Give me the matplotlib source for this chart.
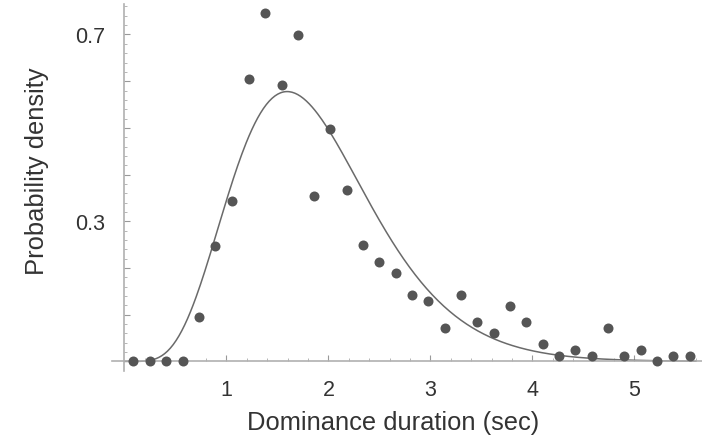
import math
import numpy as np
import matplotlib
matplotlib.use("Agg")
from matplotlib import pyplot as plt
from matplotlib.ticker import FixedLocator

plt.rcParams['font.family'] = ['Liberation Sans', 'DejaVu Sans']

# observed histogram (bin centres, density)
durations = [0.08, 0.25, 0.41, 0.57, 0.73, 0.89, 1.05, 1.22, 1.38, 1.54, 1.70, 1.86,
             2.02, 2.18, 2.34, 2.50, 2.66, 2.82, 2.98, 3.14, 3.30, 3.46, 3.62, 3.78,
             3.94, 4.10, 4.26, 4.42, 4.58, 4.74, 4.90, 5.06, 5.22, 5.38, 5.54]
density = [0.0, 0.0, 0.0, 0.0, 0.095, 0.247, 0.343, 0.605, 0.746, 0.592, 0.699, 0.355,
           0.498, 0.367, 0.249, 0.213, 0.190, 0.143, 0.130, 0.072, 0.143, 0.085, 0.061, 0.119,
           0.085, 0.037, 0.012, 0.025, 0.012, 0.072, 0.012, 0.025, 0.0, 0.012, 0.012]

# fitted gamma density
shape_k = 6.5
scale_theta = 0.29

xticks = [1, 2, 3, 4, 5]
yticks = [0.1, 0.2, 0.3, 0.4, 0.5, 0.6, 0.7]
ylabels = ['', '', '0.3', '', '', '', '0.7']

xs = np.linspace(0.001, 5.6, 400)
fit = xs**(shape_k - 1) * np.exp(-xs / scale_theta) / (math.gamma(shape_k) * scale_theta**shape_k)

fig = plt.figure(figsize=(7.02, 4.39), dpi=100)
ax = fig.add_axes([0, 0, 1, 1])
ax.set_xlim(-1.22, 5.662)
ax.set_ylim(-0.164, 0.776)

axis_col = '#b0b0b0'
for s in ['top', 'right']:
    ax.spines[s].set_visible(False)
ax.spines['left'].set_position(('data', 0))
ax.spines['bottom'].set_position(('data', 0))
ax.spines['left'].set_bounds(-0.02, 0.766)
ax.spines['bottom'].set_bounds(-0.123, 5.66)
for s in ['left', 'bottom']:
    ax.spines[s].set_color(axis_col)
    ax.spines[s].set_linewidth(1.2)

ax.plot(xs, fit, color='#6a6a6a', lw=1.1, zorder=2)
ax.plot(durations, density, 'o', color='#555555', ms=7.2, mec='none', zorder=3, clip_on=False)

ax.set_xticks(xticks)
ax.set_xticklabels([str(t) for t in xticks])
ax.xaxis.set_minor_locator(FixedLocator([v / 5 for v in range(1, 29) if v % 5]))
ax.set_yticks(yticks)
ax.set_yticklabels(ylabels)
ax.yaxis.set_minor_locator(FixedLocator([v / 50 for v in range(1, 39) if v % 5]))
ax.tick_params(which='major', direction='in', length=4, width=0.8, color='#999999',
               labelsize=15.5, labelcolor='#333333')
ax.tick_params(which='minor', direction='in', length=2.5, width=0.6, color='#aaaaaa')
ax.tick_params(axis='x', pad=13)
ax.tick_params(axis='y', pad=14)

ax.text(2.63, -0.13, 'Dominance duration (sec)', ha='center', va='center',
        fontsize=18.4, color='#333333')
ax.text(-0.86, 0.409, 'Probability density', ha='center', va='center', rotation=90,
        fontsize=18.4, color='#333333')

fig.savefig('out.png', dpi=100)
